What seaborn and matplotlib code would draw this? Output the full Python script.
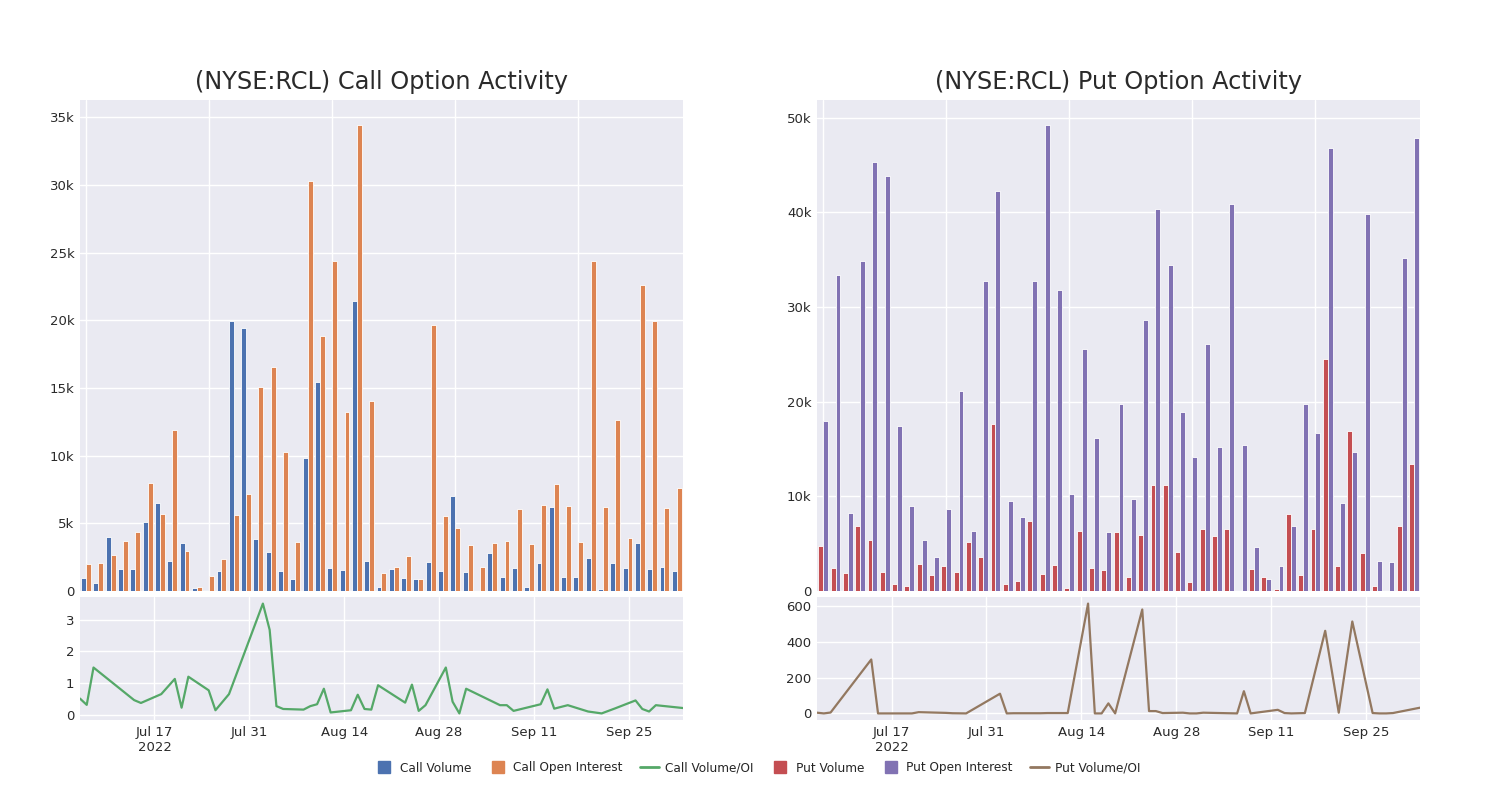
import pandas as pd
import matplotlib
matplotlib.use("Agg")
import matplotlib.pyplot as plt
import matplotlib.ticker as mticker
from matplotlib.lines import Line2D
import seaborn as sns

# --- data (RCL options, Jul-Oct 2022) ---
dates = [
    "2022-07-06", "2022-07-07", "2022-07-08", "2022-07-14", "2022-07-15", "2022-07-18",
    "2022-07-20", "2022-07-21", "2022-07-22", "2022-07-25", "2022-07-26", "2022-07-28",
    "2022-08-02", "2022-08-03", "2022-08-04", "2022-08-05", "2022-08-08", "2022-08-09",
    "2022-08-10", "2022-08-11", "2022-08-12", "2022-08-15", "2022-08-16", "2022-08-17",
    "2022-08-18", "2022-08-19", "2022-08-23", "2022-08-24", "2022-08-25", "2022-08-26",
    "2022-08-29", "2022-08-30", "2022-08-31", "2022-09-01", "2022-09-06", "2022-09-07",
    "2022-09-08", "2022-09-12", "2022-09-13", "2022-09-14", "2022-09-16", "2022-09-19",
    "2022-09-21", "2022-09-23", "2022-09-26", "2022-09-27", "2022-09-28", "2022-09-29",
    "2022-10-03",
]

call_volume = [
    990, 590, 3990, 1630, 1600, 5130, 6510, 2240, 3570, 200, 100, 1500,
    19970, 19420, 3850, 2910, 1480, 910, 9860, 15450, 1730, 1580, 21440, 2190,
    320, 1630, 960, 890, 2120, 1500, 7020, 1430, 30, 2830, 1060, 1700,
    300, 2050, 6240, 1060, 1010, 2460, 170, 2100, 1700, 3570, 1630, 1750,
    1450,
]
call_oi = [
    2020, 2100, 2660, 3700, 4390, 8010, 5690, 11930, 2980, 270, 1080, 2370,
    5620, 7200, 15040, 16560, 10300, 3600, 30290, 18860, 24400, 13240, 34460, 14070,
    1330, 1770, 2610, 910, 19690, 5550, 4660, 3430, 1770, 3550, 3700, 6090,
    3450, 6360, 7890, 6310, 3620, 24400, 6240, 12640, 3920, 22580, 19920, 6140,
    7590,
]
call_ratio = [
    0.51, 0.31, 1.49, 0.46, 0.37, 0.65, 1.13, 0.22, 1.20, 0.77, 0.14, 0.65,
    3.51, 2.68, 0.27, 0.18, 0.16, 0.27, 0.33, 0.82, 0.07, 0.14, 0.63, 0.18,
    0.16, 0.93, 0.38, 0.95, 0.12, 0.30, 1.49, 0.41, 0.04, 0.82, 0.30, 0.30,
    0.12, 0.33, 0.80, 0.19, 0.30, 0.10, 0.04, 0.20, 0.45, 0.18, 0.10, 0.30,
    0.21,
]

put_volume = [
    4720, 2460, 1900, 6870, 5350, 2040, 770, 490, 2890, 1730, 2610, 2040,
    5210, 3560, 17680, 740, 1090, 7390, 1830, 2750, 350, 6300, 2430, 2220,
    6230, 1480, 5950, 11230, 11160, 4120, 920, 6580, 5810, 6580, 0, 2290,
    1440, 210, 8130, 1650, 6580, 24470, 2610, 16900, 4010, 490, 0, 6900,
    13420,
]
put_oi = [
    17990, 33420, 8240, 34820, 45350, 43870, 17460, 8940, 5350, 3560, 8700, 21160,
    6370, 32710, 42250, 9540, 7850, 32710, 49260, 31800, 10280, 25560, 16160, 6270,
    19750, 9680, 28590, 40320, 34400, 18870, 14120, 26090, 15250, 40850, 15460, 4650,
    1270, 2640, 6870, 19720, 16650, 46760, 9330, 14720, 39860, 3130, 3030, 35180,
    47890,
]
put_ratio = [
    4, 0, 5, 301, 0, 0, 0, 7, 6, 3, 1, 0,
    110, 0, 1, 1, 1, 2, 2, 2, 2, 613, 0, 0,
    56, 0, 580, 13, 13, 2, 4, 0, 0, 4, 0, 124,
    0, 20, 2, 0, 2, 461, 4, 513, 2, 0, 0, 2,
    32,
]

tick_dates = ["2022-07-17", "2022-07-31", "2022-08-14", "2022-08-28", "2022-09-11", "2022-09-25"]
tick_labels = ["Jul 17\n2022", "Jul 31", "Aug 14", "Aug 28", "Sep 11", "Sep 25"]

colors = {
    "Call Volume": "#4C72B0",
    "Call Open Interest": "#DD8452",
    "Call Volume/OI": "#55A868",
    "Put Volume": "#C44E52",
    "Put Open Interest": "#8172B3",
    "Put Volume/OI": "#937860",
}

sns.set_theme(style="darkgrid")
plt.rcParams["font.family"] = ["DejaVu Sans"]
plt.rcParams["axes.facecolor"] = "#EAEAF2"

fig = plt.figure(figsize=(15, 8), dpi=100)

kfmt = mticker.FuncFormatter(lambda v, p: "0" if v == 0 else f"{v / 1000:g}k")
x_dates = pd.to_datetime(dates)


def draw_panel(left, vol, oi, ratio, names, title, ystep, rstep):
    ax_top = fig.add_axes([left, 0.26125, 0.402, 0.61375])
    ax_bot = fig.add_axes([left, 0.10, 0.402, 0.15375])

    df = pd.DataFrame({
        "date": dates * 2,
        "value": vol + oi,
        "kind": [names[0]] * len(dates) + [names[1]] * len(dates),
    })
    sns.barplot(
        data=df, x="date", y="value", hue="kind", order=dates,
        palette={names[0]: colors[names[0]], names[1]: colors[names[1]]},
        width=0.8, edgecolor="white", linewidth=0.6, saturation=1,
        legend=False, ax=ax_top,
    )
    ax_top.set_xlim(-0.5, len(dates) - 0.5)
    ax_top.set_ylim(0, max(max(vol), max(oi)) * 1.053)
    ax_top.set_xticks(range(0, len(dates), 10))
    ax_top.set_xticklabels([])
    ax_top.yaxis.set_major_locator(mticker.MultipleLocator(ystep))
    ax_top.yaxis.set_major_formatter(kfmt)
    ax_top.set_xlabel("")
    ax_top.set_ylabel("")
    ax_top.set_title(title, fontsize=17.3, color="#2a2a2a", pad=8)

    sns.lineplot(x=x_dates, y=ratio, color=colors[names[2]], linewidth=1.6, ax=ax_bot)
    ax_bot.set_xlim(pd.Timestamp("2022-07-06"), pd.Timestamp("2022-10-03"))
    span = max(ratio) - min(ratio)
    ax_bot.set_ylim(min(ratio) - 0.06 * span, max(ratio) + 0.06 * span)
    ax_bot.yaxis.set_major_locator(mticker.MultipleLocator(rstep))
    ax_bot.yaxis.set_major_formatter(mticker.FuncFormatter(lambda v, p: f"{v:g}"))
    ax_bot.set_xticks(pd.to_datetime(tick_dates))
    ax_bot.set_xticklabels(tick_labels)
    ax_bot.set_xlabel("")
    ax_bot.set_ylabel("")

    for ax in (ax_top, ax_bot):
        ax.tick_params(axis="both", length=0, labelsize=9.5, labelcolor="#2a2a2a", pad=4)
        ax.grid(True, color="white", linewidth=1.0)
        for s in ax.spines.values():
            s.set_visible(False)


draw_panel(0.0533, call_volume, call_oi, call_ratio,
           ["Call Volume", "Call Open Interest", "Call Volume/OI"],
           "(NYSE:RCL) Call Option Activity", 5000, 1)
draw_panel(0.5447, put_volume, put_oi, put_ratio,
           ["Put Volume", "Put Open Interest", "Put Volume/OI"],
           "(NYSE:RCL) Put Option Activity", 10000, 200)

handles = []
for name, c in colors.items():
    if "Volume/OI" in name:
        handles.append(Line2D([0], [0], color=c, linewidth=2, label=name))
    else:
        handles.append(Line2D([0], [0], color=c, marker="s", markersize=8.5,
                              linestyle="none", label=name))
fig.legend(handles=handles, loc="center", bbox_to_anchor=(0.505, 0.04), ncol=6,
           frameon=False, fontsize=8.7, handlelength=1.6, columnspacing=1.4,
           handletextpad=0.5)

fig.savefig("out.png", dpi=100, facecolor="white")
